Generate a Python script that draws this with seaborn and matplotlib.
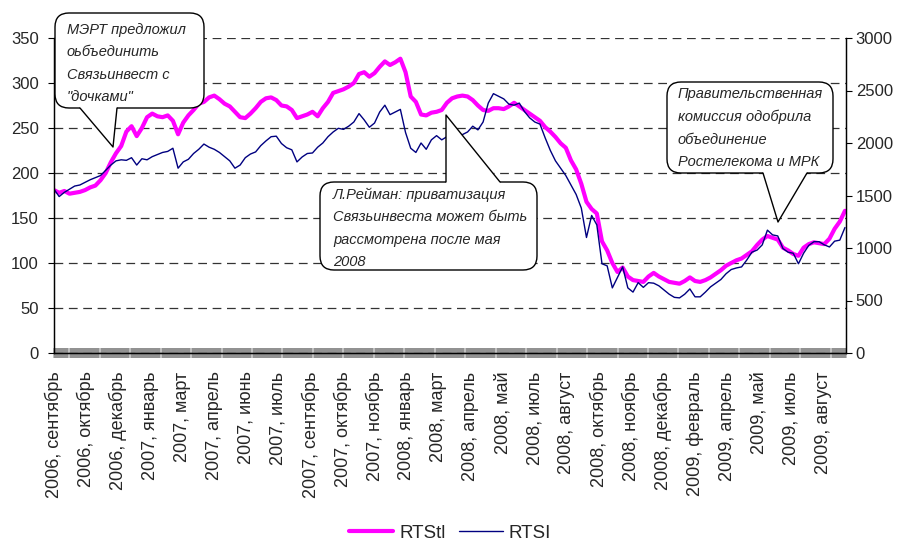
import numpy as np
import pandas as pd
import matplotlib.pyplot as plt
import matplotlib.patches as mpatches
import matplotlib.transforms as mtransforms
from matplotlib.lines import Line2D
import seaborn as sns

# daily category axis, values read every 5 trading days
step = 5
n_days = 767
label_every = 31

month_labels = [
    "2006, сентябрь", "2006, октябрь", "2006, декабрь", "2007, январь",
    "2007, март", "2007, апрель", "2007, июнь", "2007, июль",
    "2007, сентябрь", "2007, октябрь", "2007, ноябрь", "2008, январь",
    "2008, март", "2008, апрель", "2008, май", "2008, июль",
    "2008, август", "2008, октябрь", "2008, ноябрь", "2008, декабрь",
    "2009, февраль", "2009, апрель", "2009, май", "2009, июль",
    "2009, август",
]

rtstl = [
    181, 178, 180, 177, 178, 179, 181, 184, 186, 192,
    200, 212, 222, 230, 246, 252, 241, 250, 262, 266,
    263, 262, 264, 258, 243, 256, 264, 270, 277, 279,
    284, 286, 282, 277, 274, 268, 262, 261, 266, 272,
    279, 283, 284, 281, 275, 274, 270, 261, 263, 265,
    268, 263, 272, 279, 289, 291, 293, 296, 300, 310,
    312, 307, 311, 318, 324, 320, 323, 327, 312, 285,
    279, 265, 264, 267, 268, 270, 278, 283, 285, 286,
    285, 281, 275, 270, 269, 272, 272, 271, 274, 278,
    274, 270, 266, 262, 258, 251, 246, 240, 233, 228,
    214, 204, 188, 168, 160, 155, 124, 114, 100, 90,
    95, 85, 81, 80, 79, 85, 89, 85, 82, 79,
    78, 77, 80, 84, 80, 79, 81, 84, 88, 92,
    97, 100, 103, 105, 109, 113, 120, 126, 130, 128,
    126, 117, 114, 110, 108, 117, 121, 123, 122, 121,
    127, 138, 146, 158,
]

rtsi = [
    1560, 1490, 1530, 1560, 1590, 1600, 1625, 1650, 1670, 1690,
    1740, 1790, 1830, 1840, 1835, 1860, 1790, 1850, 1840, 1870,
    1890, 1910, 1920, 1950, 1760, 1820, 1845, 1900, 1940, 1990,
    1960, 1940, 1910, 1870, 1830, 1760, 1790, 1860, 1895, 1915,
    1975, 2020, 2060, 2065, 1995, 1955, 1935, 1820, 1867, 1900,
    1905, 1960, 2000, 2060, 2105, 2140, 2130, 2160, 2200, 2280,
    2220, 2150, 2190, 2295, 2360, 2270, 2295, 2320, 2100, 1950,
    1910, 2000, 1940, 2030, 2070, 2030, 2060, 2050, 2070, 2080,
    2105, 2160, 2125, 2200, 2380, 2470, 2445, 2420, 2370, 2360,
    2380, 2300, 2240, 2200, 2180, 2050, 1930, 1830, 1760, 1690,
    1600, 1510, 1380, 1100, 1310, 1220, 850, 830, 620, 720,
    820, 620, 580, 670, 625, 670, 665, 640, 600, 560,
    530, 525, 560, 610, 535, 535, 580, 630, 665, 700,
    755, 795, 810, 820, 885, 960, 980, 1030, 1170, 1125,
    1115, 995, 960, 950, 850, 950, 1025, 1060, 1060, 1030,
    1010, 1065, 1075, 1195,
]

sns.set_style("white")
plt.rcParams['font.family'] = ['Liberation Sans', 'DejaVu Sans']

df = pd.DataFrame({
    'day': np.arange(len(rtstl)) * step,
    'RTStl': rtstl,
    'RTSI': rtsi,
})

W, H = 900, 542
fig = plt.figure(figsize=(W / 100, H / 100), dpi=100)
ax = fig.add_axes([54 / W, 1 - 353 / H, 792 / W, 315 / H])
ax2 = ax.twinx()

pink = '#ff00ff'
navy = '#000080'
sns.lineplot(data=df, x='day', y='RTStl', ax=ax, color=pink, linewidth=3.0, legend=False)
sns.lineplot(data=df, x='day', y='RTSI', ax=ax2, color=navy, linewidth=1.0, legend=False)

ax.set_xlim(0, n_days - 1)
ax.set_ylim(0, 350)
ax2.set_ylim(0, 3000)
ax.set_yticks(range(0, 351, 50))
ax2.set_yticks(range(0, 3001, 500))
for a in (ax, ax2):
    a.set_xlabel('')
    a.set_ylabel('')
    a.spines['top'].set_visible(False)
    for s in ('left', 'right', 'bottom'):
        a.spines[s].set_color('black')
        a.spines[s].set_linewidth(0.9)

# one tick per trading day, label every ~1.5 months
ax.set_xticks(np.arange(0, n_days, label_every)[:len(month_labels)])
ax.set_xticklabels(month_labels, rotation=90, fontsize=13)
ax.set_xticks(np.arange(n_days), minor=True)
ax.tick_params(axis='x', which='both', bottom=True, direction='inout', length=6.5,
               width=0.35, color='black', pad=10)
ax.tick_params(axis='y', left=True, direction='out', length=4, width=0.8,
               color='black', labelsize=12, pad=7)
ax2.tick_params(axis='y', right=True, direction='out', length=4, width=0.8,
                color='black', labelsize=12, pad=3)

ax.grid(axis='y', linestyle=(0, (7, 4.5)), color='#333333', linewidth=0.9)
ax.grid(axis='x', visible=False)

# callouts, drawn in pixel coordinates of the image
ident = mtransforms.IdentityTransform()


def bubble(x0, y0, x1, y1, bx0, bx1, by, tip, lines, tx, ty0, dy):
    fig.add_artist(mpatches.FancyBboxPatch(
        (x0, H - y1), x1 - x0, y1 - y0,
        boxstyle='round,pad=0,rounding_size=14',
        fc='white', ec='black', lw=1, transform=ident, zorder=10))
    inside = -3 if tip[1] > by else 3
    fig.add_artist(mpatches.Polygon(
        [(bx0, H - (by + inside)), (bx0, H - by), (tip[0], H - tip[1]),
         (bx1, H - by), (bx1, H - (by + inside))],
        closed=True, fc='white', ec='none', transform=ident, zorder=11))
    fig.add_artist(Line2D([bx0, tip[0], bx1], [H - by, H - tip[1], H - by],
                          color='black', lw=1, transform=ident, zorder=12))
    for i, s in enumerate(lines):
        fig.text(tx, H - (ty0 + i * dy), s, transform=ident, fontsize=10.5,
                 style='italic', ha='left', va='center', zorder=13)


bubble(55, 13, 204, 108, 80, 117, 108, (113, 147),
       ["МЭРТ предложил", "оьбъединить", "Связьинвест с", "\"дочками\""],
       67, 30, 22.3)
bubble(320, 182, 537, 270, 446, 500, 182, (446, 115),
       ["Л.Рейман: приватизация", "Связьинвеста может быть",
        "рассмотрена после мая", "2008"],
       333, 195, 22.3)
bubble(667, 82, 833, 173, 763, 807, 173, (778, 222),
       ["Правительственная", "комиссия одобрила", "объединение",
        "Ростелекома и МРК"],
       678, 94, 22.8)

handles = [Line2D([], [], color=pink, lw=3.0), Line2D([], [], color=navy, lw=1.0)]
fig.legend(handles, ['RTStl', 'RTSI'], loc='center', bbox_to_anchor=(0.5, 1 - 533 / H),
           ncol=2, frameon=False, fontsize=13.5, handlelength=2.35,
           handletextpad=0.3, columnspacing=0.7)

plt.savefig("out.png", dpi=100)
